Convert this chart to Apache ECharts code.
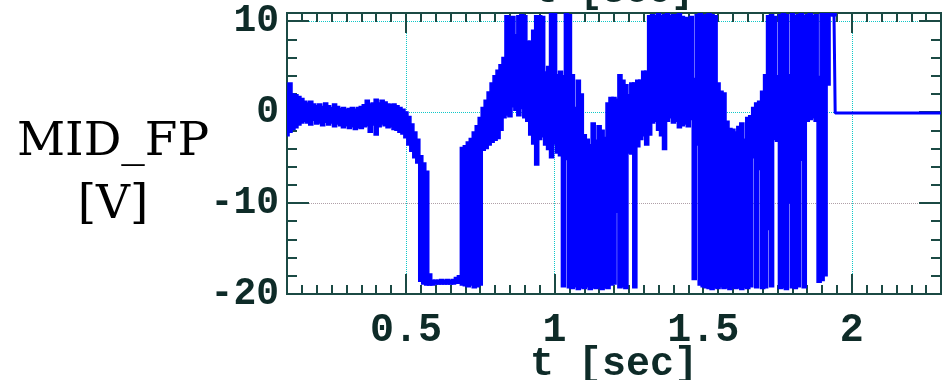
<!DOCTYPE html>
<html><head><meta charset="utf-8">
<script src="https://cdn.jsdelivr.net/npm/echarts@6/dist/echarts.min.js"></script>
<style>html,body{margin:0;padding:0;background:#fff}#c{width:942px;height:380px}</style>
</head><body><div id="c"></div>
<script>
// sample times [sec]
const T = [
0.10,0.11,0.12,0.13,0.14,0.15,0.16,0.17,0.18,0.19,
0.20,0.21,0.22,0.23,0.24,0.25,0.26,0.27,0.28,0.29,
0.30,0.31,0.32,0.33,0.34,0.35,0.36,0.37,0.38,0.39,
0.40,0.41,0.42,0.43,0.44,0.45,0.46,0.47,0.48,0.49,
0.50,0.51,0.52,0.53,0.54,0.55,0.56,0.57,0.58,0.59,
0.60,0.61,0.62,0.63,0.64,0.65,0.66,0.67,0.68,0.69,
0.70,0.71,0.72,0.73,0.74,0.75,0.76,0.77,0.78,0.79,
0.80,0.81,0.82,0.83,0.84,0.85,0.86,0.87,0.88,0.89,
0.90,0.91,0.92,0.93,0.94,0.95,0.96,0.97,0.98,0.99,
1.00,1.01,1.02,1.03,1.04,1.05,1.06,1.07,1.08,1.09,
1.10,1.11,1.12,1.13,1.14,1.15,1.16,1.17,1.18,1.19,
1.20,1.21,1.22,1.23,1.24,1.25,1.26,1.27,1.28,1.29,
1.30,1.31,1.32,1.33,1.34,1.35,1.36,1.37,1.38,1.39,
1.40,1.41,1.42,1.43,1.44,1.45,1.46,1.47,1.48,1.49,
1.50,1.51,1.52,1.53,1.54,1.55,1.56,1.57,1.58,1.59,
1.60,1.61,1.62,1.63,1.64,1.65,1.66,1.67,1.68,1.69,
1.70,1.71,1.72,1.73,1.74,1.75,1.76,1.77,1.78,1.79,
1.80,1.81,1.82,1.83,1.84,1.85,1.86,1.87,1.88,1.89,
1.90,1.91,1.92,1.93,1.94];
// upper envelope of MID_FP [V] at each sample
const HI = [
2.2,3.2,2.0,1.9,1.7,1.5,1.2,1.0,1.2,0.9,
0.7,0.9,0.6,1.0,0.7,0.5,0.9,0.6,0.4,0.5,
0.3,0.4,0.5,0.3,0.5,0.6,0.8,1.3,0.9,1.0,
1.4,1.0,1.3,1.1,0.9,0.8,0.9,0.7,0.5,0.3,
0.0,-0.5,-1.3,-2.2,-3.0,-4.8,-5.6,-6.5,-17.8,-18.5,
-18.5,-18.5,-18.4,-18.5,-18.4,-18.5,-18.4,-18.2,-18.0,-3.9,
-3.7,-3.3,-2.9,-2.2,-1.5,-0.6,0.5,1.3,2.2,3.2,
4.0,4.6,5.2,6.0,10.6,10.3,10.5,8.5,10.6,10.7,
10.6,7.8,7.8,9.0,10.6,10.6,10.5,4.4,5.0,10.8,
10.8,4.1,4.5,4.0,10.8,10.7,4.1,0.5,3.5,2.0,
-2.5,-3.0,-3.6,-1.2,-3.1,-1.5,-2.0,-2.8,1.0,1.6,
1.6,1.4,4.1,3.5,3.0,1.9,3.2,3.2,3.5,3.5,
4.5,4.5,10.6,10.7,10.6,10.8,10.6,10.7,10.8,10.6,
10.7,10.7,10.8,10.5,10.4,10.2,10.5,3.7,10.7,10.8,
10.6,10.7,10.8,10.7,10.6,3.2,2.3,2.1,-1.0,-1.8,
-1.9,-2.2,-1.6,-1.2,-3.0,-0.6,-0.4,0.5,1.0,1.2,
2.3,4.1,10.6,10.7,10.5,4.0,10.7,10.8,10.7,4.1,
10.8,10.6,10.7,10.8,10.6,10.7,10.8,10.6,10.7,3.9,
10.8,10.8,10.9,10.9,10.9];
// lower envelope of MID_FP [V] at each sample
const LO = [
-2.6,-2.2,-1.9,-1.7,-1.4,-1.2,-1.0,-1.2,-1.4,-0.9,
-1.3,-1.2,-1.5,-1.1,-1.4,-1.2,-1.6,-1.3,-1.5,-1.7,
-1.5,-1.8,-1.6,-1.9,-1.7,-1.8,-1.6,-1.5,-2.2,-1.4,
-2.5,-1.6,-1.3,-1.5,-1.7,-1.6,-1.9,-2.0,-2.2,-2.4,
-2.8,-3.6,-4.3,-5.0,-5.6,-18.6,-18.9,-19.0,-19.0,-19.0,
-18.9,-18.9,-18.9,-18.9,-18.9,-18.9,-18.9,-18.8,-18.8,-19.0,
-19.1,-19.2,-19.0,-19.3,-19.2,-19.0,-4.2,-4.0,-3.6,-3.3,
-3.1,-2.9,-2.0,-0.6,-0.3,-0.5,0.6,0.2,-0.4,0.4,
-0.6,-1.0,-2.5,-3.5,-5.8,-3.0,-2.7,-3.6,-4.1,-5.0,
-3.5,-4.5,-4.8,-19.2,-5.2,-19.3,-19.4,-19.2,-19.5,-19.3,
-19.4,-19.2,-19.5,-19.3,-19.4,-19.2,-19.5,-19.3,-19.4,-19.0,
-18.9,-11.0,-19.3,-19.2,-19.4,-4.5,-4.6,-19.3,-3.8,-3.0,
-2.6,-3.6,-2.5,-1.2,-1.0,-2.0,-2.6,-4.1,-1.0,-0.6,
-1.2,-1.0,-1.7,-1.5,-1.3,-1.6,-0.8,-18.4,-3.6,-19.0,
-19.2,-19.3,-19.4,-19.5,-19.3,-19.4,-19.2,-19.4,-19.3,-19.5,
-19.2,-19.4,-19.3,-19.5,-19.3,-19.4,-19.2,-5.0,-19.3,-6.3,
-19.4,-19.3,-12.9,-19.2,-3.0,-3.2,-19.4,-19.3,-19.5,-10.0,
-19.3,-19.4,-19.2,-5.3,-19.3,-1.0,-0.8,-0.6,-1.0,-18.7,
-18.5,-18.0,3.0,10.6,10.6];
// after the signal stops
const TAIL_T = [1.944, 1.944, 2.3];
const TAIL_V = [10.9, -0.1, -0.1];
const X_TICKS = [0.5, 1, 1.5, 2];
const Y_TICKS = [-20, -10, 0, 10];
const SAMPLE_DT = 0.01; // spacing of the envelope samples [sec]

const envData = T.map((t, i) => [t, HI[i], LO[i]]);
const tailData = [[T[T.length - 1], HI[HI.length - 1]]].concat(TAIL_T.map((t, i) => [t, TAIL_V[i]]));

const AX = '#1b4a44';
const TXT = '#0e2b28';
const BLUE = '#0000ff';
const GRIDC = '#10c8c8';
const monoFont = 'Liberation Mono';

function xAx(pos, major, labels) {
  const a = {
    type: 'value', position: pos, min: 0.1, max: 2.3, interval: 0.05,
    axisLine: { show: true, onZero: false, lineStyle: { color: AX, width: 2 } },
    axisTick: { show: true, inside: true, length: major ? 20 : 9, lineStyle: { color: AX, width: 2 } },
    axisLabel: { show: false },
    splitLine: { show: false }
  };
  if (major) {
    a.axisTick.customValues = X_TICKS;
    a.splitLine = { show: labels, lineStyle: { type: 'dotted', color: GRIDC, width: 1 } };
  }
  if (labels) {
    a.axisLabel = { show: true, customValues: X_TICKS, margin: 17, fontFamily: monoFont,
      fontWeight: 'bold', fontSize: 40, color: TXT };
  }
  return a;
}
function yAx(pos, major, labels) {
  const a = {
    type: 'value', position: pos, min: -20, max: 10.9, interval: 2,
    axisLine: { show: true, onZero: false, lineStyle: { color: AX, width: 2 } },
    axisTick: { show: true, inside: true, length: major ? 22 : 10, lineStyle: { color: AX, width: 2 } },
    axisLabel: { show: false },
    splitLine: { show: false }
  };
  if (major) {
    a.axisTick.customValues = Y_TICKS;
    a.splitLine = { show: labels, lineStyle: { type: 'dotted', color: [GRIDC, '#b0a0a8', GRIDC, GRIDC], width: 1 } };
  }
  if (labels) {
    a.axisLabel = { show: true, customValues: Y_TICKS, margin: 8, fontFamily: monoFont,
      fontWeight: 'bold', fontSize: 38, color: TXT, padding: [8, 0, 0, 0] };
  }
  return a;
}

// each sample: a column from LO to HI, one sample interval wide
function renderColumn(params, api) {
  const t = api.value(0);
  const top = api.coord([t, api.value(1)]);
  const bot = api.coord([t, api.value(2)]);
  const w = api.size([SAMPLE_DT, 0])[0];
  return {
    type: 'rect',
    shape: { x: top[0] - w / 2 - 0.5, y: top[1], width: w + 1, height: bot[1] - top[1] },
    style: { fill: BLUE, stroke: BLUE, lineWidth: 1.6 }
  };
}

const chart = echarts.init(document.getElementById('c'), null, { renderer: 'canvas' });
chart.setOption({
  animation: false,
  backgroundColor: '#ffffff',
  grid: { left: 287, right: 1, top: 13, bottom: 86, containLabel: false },
  xAxis: [xAx('bottom', false, false), xAx('bottom', true, true), xAx('top', false, false), xAx('top', true, false)],
  yAxis: [yAx('left', false, false), yAx('left', true, true), yAx('right', false, false), yAx('right', true, false)],
  graphic: [
    { type: 'text', x: 113, y: 143, style: { text: 'MID_FP', fontFamily: 'DejaVu Serif', fontSize: 47, fill: '#000', align: 'center', verticalAlign: 'middle' } },
    { type: 'text', x: 113, y: 206, style: { text: '[V]', fontFamily: 'DejaVu Serif', fontSize: 47, fill: '#000', align: 'center', verticalAlign: 'middle' } },
    { type: 'text', x: 614, y: 365, style: { text: 't [sec]', fontFamily: monoFont, fontWeight: 'bold', fontSize: 40, fill: TXT, align: 'center', verticalAlign: 'middle' } },
    { type: 'text', x: 614, y: -8, style: { text: 't [sec]', fontFamily: monoFont, fontWeight: 'bold', fontSize: 38, fill: TXT, align: 'center', verticalAlign: 'middle' } }
  ],
  series: [
    { type: 'custom', xAxisIndex: 0, yAxisIndex: 0, data: envData, progressive: 0,
      encode: { x: 0, y: [1, 2] }, renderItem: renderColumn, z: 3, clip: true },
    { type: 'line', xAxisIndex: 0, yAxisIndex: 0, data: tailData,
      symbol: 'none', showSymbol: false, clip: true, z: 4,
      lineStyle: { color: BLUE, width: 3 } }
  ]
});
</script>
</body></html>
